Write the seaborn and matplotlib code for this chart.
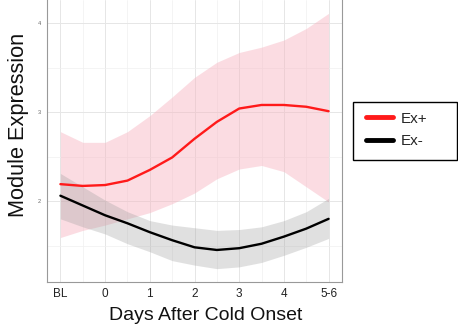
import numpy as np
import pandas as pd
import matplotlib
matplotlib.use("Agg")
import matplotlib.pyplot as plt
from matplotlib.patches import Rectangle
import seaborn as sns

sns.set_style("white")
plt.rcParams["font.family"] = ["Liberation Sans", "DejaVu Sans"]

# donnees (x : -1 = BL, 5 = 5-6)
days = [-1, -0.5, 0, 0.5, 1, 1.5, 2, 2.5, 3, 3.5, 4, 4.5, 5]
tick_pos = [-1, 0, 1, 2, 3, 4, 5]
tick_labels = ["BL", "0", "1", "2", "3", "4", "5-6"]

ex_plus = [2.19, 2.17, 2.18, 2.23, 2.35, 2.49, 2.70, 2.89, 3.04, 3.08, 3.08, 3.06, 3.01]
ex_plus_hi = [2.78, 2.66, 2.66, 2.78, 2.96, 3.17, 3.39, 3.56, 3.67, 3.73, 3.81, 3.94, 4.11]
ex_plus_lo = [1.59, 1.67, 1.73, 1.80, 1.87, 1.97, 2.09, 2.25, 2.36, 2.40, 2.33, 2.16, 1.99]

ex_minus = [2.06, 1.95, 1.84, 1.75, 1.65, 1.56, 1.48, 1.45, 1.47, 1.52, 1.60, 1.69, 1.80]
ex_minus_hi = [2.31, 2.16, 2.01, 1.88, 1.78, 1.73, 1.70, 1.67, 1.68, 1.71, 1.78, 1.88, 2.03]
ex_minus_lo = [1.80, 1.71, 1.63, 1.52, 1.43, 1.33, 1.28, 1.24, 1.26, 1.31, 1.39, 1.48, 1.58]

df = pd.DataFrame({
    "jour": days * 2,
    "expr": ex_plus + ex_minus,
    "groupe": ["Ex+"] * len(days) + ["Ex-"] * len(days),
})

fig = plt.figure(figsize=(4.58, 3.31), dpi=100)
ax = fig.add_axes([47 / 458, 1 - 282 / 331, (342 - 47) / 458, 282 / 331])

# bandes de confiance
ax.fill_between(days, ex_plus_lo, ex_plus_hi, color="#f7b3c0", alpha=0.45, lw=0, zorder=1)
ax.fill_between(days, ex_minus_lo, ex_minus_hi, color="#9a9a9a", alpha=0.3, lw=0, zorder=1)

sns.lineplot(data=df, x="jour", y="expr", hue="groupe",
             palette={"Ex+": "#ff1a1a", "Ex-": "black"}, lw=1.7, ax=ax, zorder=3)

ax.set_xlim(-1.3, 5.3)
ax.set_ylim(1.09, 4.26)
ax.set_xticks(tick_pos)
ax.set_xticklabels(tick_labels, fontsize=8.5, color="#222222")
ax.set_yticks([2, 3, 4])
ax.set_yticklabels(["2", "3", "4"], fontsize=4, color="#666666")
ax.set_xticks([-0.5, 0.5, 1.5, 2.5, 3.5, 4.5], minor=True)
ax.set_yticks([1.5, 2.5, 3.5], minor=True)
ax.grid(which="major", color="#e6e6e6", lw=0.7, zorder=0)
ax.grid(which="minor", color="#f0f0f0", lw=0.5, zorder=0)
ax.set_axisbelow(True)
ax.tick_params(axis="both", which="major", length=2.5, width=0.6, color="#888888", pad=2)
ax.tick_params(axis="both", which="minor", length=0)
for s in ["left", "bottom", "right"]:
    ax.spines[s].set_color("#999999")
    ax.spines[s].set_linewidth(0.8)
ax.spines["top"].set_visible(False)

ax.set_xlabel("")
ax.set_ylabel("")
fig.text(206 / 458, 1 - 316 / 331, "Days After Cold Onset", fontsize=14,
         ha="center", va="center", color="#111111")
fig.text(19 / 458, 1 - 125 / 331, "Module Expression", fontsize=15.7,
         ha="center", va="center", rotation=90, color="#111111")

# legende (cadre dessine a part)
leg = ax.legend(loc="center left", bbox_to_anchor=(366 / 458, 1 - 130 / 331),
                bbox_transform=fig.transFigure, fontsize=11, frameon=False,
                handlelength=1.75, handletextpad=0.55, borderpad=0.0,
                borderaxespad=0.0, labelspacing=0.55)
for h in leg.get_lines():
    h.set_linewidth(3.5)
fig.patches.append(Rectangle((353 / 458, 1 - 160 / 331), 104 / 458, 58 / 331,
                             transform=fig.transFigure, fill=False,
                             edgecolor="black", lw=1.0))

fig.savefig("out.png", dpi=100)
